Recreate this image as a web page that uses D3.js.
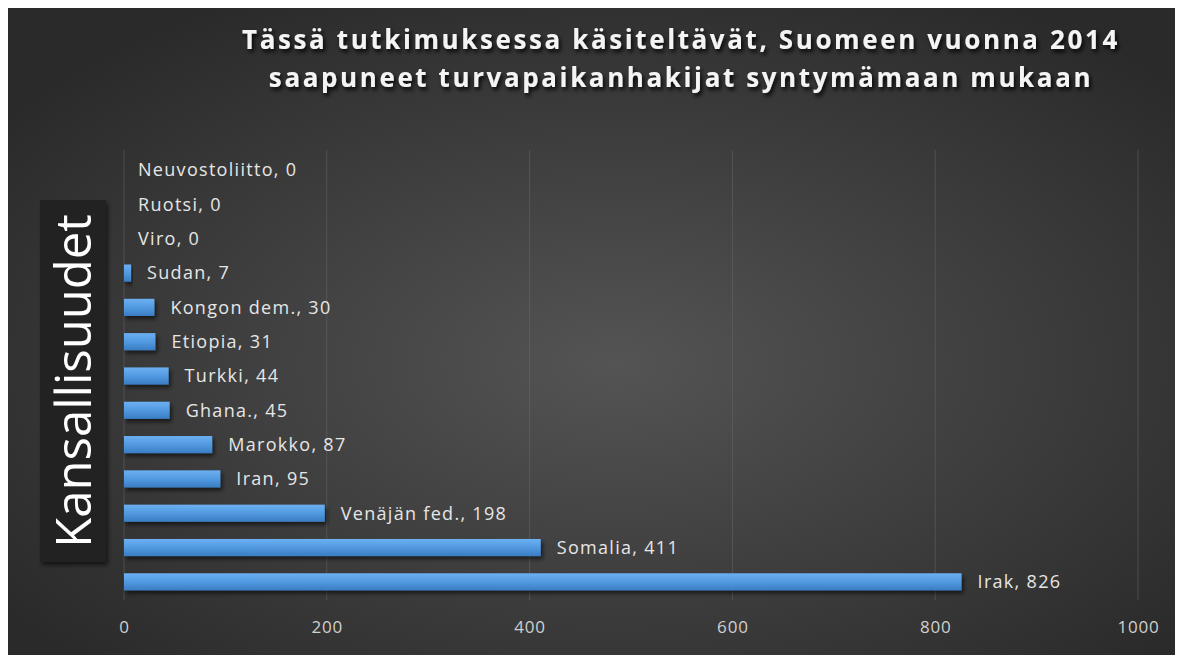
<!DOCTYPE html>
<html lang="fi">
<meta charset="utf-8">
<style type="text/css">
  body { margin: 0; background: #fff; }
  svg { display: block; }
  .grid line { stroke: #6a6a6a; stroke-opacity: 0.5; }
  .tick text { fill: #d0d0d0; font-family: "Open Sans", sans-serif; font-size: 17px; letter-spacing: 0.8px; }
  .lbl { fill: #e6e6e6; font-family: "Open Sans", sans-serif; font-size: 18px; letter-spacing: 1.3px; }
</style>
<body>
<script src="https://cdn.jsdelivr.net/npm/d3@7"></script>
<script>
var countries = ["Neuvostoliitto", "Ruotsi", "Viro", "Sudan", "Kongon dem.", "Etiopia", "Turkki",
                 "Ghana.", "Marokko", "Iran", "Venäjän fed.", "Somalia", "Irak"];
var counts = [0, 0, 0, 7, 30, 31, 44, 45, 87, 95, 198, 411, 826];
var xTicks = [0, 200, 400, 600, 800, 1000];
var titleLines = ["Tässä tutkimuksessa käsiteltävät, Suomeen vuonna 2014",
                  "saapuneet turvapaikanhakijat syntymämaan mukaan"];
var axisTitle = "Kansallisuudet";

var W = 1181, H = 657;
var svg = d3.select("body").append("svg")
    .attr("width", W)
    .attr("height", H);

var defs = svg.append("defs");
var bg = defs.append("radialGradient").attr("id", "bg")
    .attr("cx", "52%").attr("cy", "55%").attr("r", "65%");
bg.append("stop").attr("offset", "0%").attr("stop-color", "#545454");
bg.append("stop").attr("offset", "100%").attr("stop-color", "#2a2a2a");

var barGrad = defs.append("linearGradient").attr("id", "bar")
    .attr("x1", 0).attr("y1", 0).attr("x2", 0).attr("y2", 1);
barGrad.append("stop").attr("offset", "0%").attr("stop-color", "#6cb0f2");
barGrad.append("stop").attr("offset", "55%").attr("stop-color", "#4f97de");
barGrad.append("stop").attr("offset", "100%").attr("stop-color", "#3a7cc2");

var shadow = defs.append("filter").attr("id", "shadow")
    .attr("x", "-10%").attr("y", "-20%").attr("width", "130%").attr("height", "180%");
shadow.append("feDropShadow").attr("dx", 2).attr("dy", 3).attr("stdDeviation", 2)
    .attr("flood-color", "#000").attr("flood-opacity", 0.6);

var tshadow = defs.append("filter").attr("id", "tshadow")
    .attr("x", "-5%").attr("y", "-30%").attr("width", "110%").attr("height", "170%");
tshadow.append("feDropShadow").attr("dx", 2).attr("dy", 3).attr("stdDeviation", 2)
    .attr("flood-color", "#000").attr("flood-opacity", 0.9);

// background panel
svg.append("rect")
    .attr("x", 8).attr("y", 8)
    .attr("width", 1167).attr("height", 647)
    .attr("fill", "url(#bg)");

var x = d3.scaleLinear().domain([0, 1000]).range([124, 1138]);
var y = d3.scaleBand().domain(countries).range([153, 599]).paddingInner(0.5).paddingOuter(0.25);

// gridlines
svg.append("g").attr("class", "grid")
  .selectAll("line")
  .data(xTicks)
  .enter().append("line")
    .attr("x1", function (d) { return x(d); })
    .attr("x2", function (d) { return x(d); })
    .attr("y1", 150)
    .attr("y2", 600);

// x axis (labels only)
var xAxis = svg.append("g")
    .attr("transform", "translate(0,621)")
    .call(d3.axisBottom(x).tickValues(xTicks).tickFormat(d3.format("d")).tickSize(0).tickPadding(0));
xAxis.select(".domain").remove();

// bars
svg.append("g")
  .selectAll("rect")
  .data(counts)
  .enter().append("rect")
    .attr("x", x(0))
    .attr("y", function (d, i) { return y(countries[i]); })
    .attr("width", function (d) { return x(d) - x(0); })
    .attr("height", y.bandwidth())
    .attr("fill", "url(#bar)")
    .attr("filter", "url(#shadow)");

// data labels
svg.append("g")
  .selectAll("text")
  .data(counts)
  .enter().append("text")
    .attr("class", "lbl")
    .attr("x", function (d) { return x(d) + (d > 0 ? 16 : 14); })
    .attr("y", function (d, i) { return y(countries[i]) + y.bandwidth() / 2; })
    .attr("dy", "0.35em")
    .text(function (d, i) { return countries[i] + ", " + d; });

// axis title box
svg.append("rect")
    .attr("x", 40).attr("y", 200)
    .attr("width", 66).attr("height", 362)
    .attr("fill", "#242424")
    .attr("filter", "url(#shadow)");
svg.append("text")
    .attr("transform", "translate(91,381) rotate(-90)")
    .attr("text-anchor", "middle")
    .attr("fill", "#ffffff")
    .style("font-family", "'Open Sans', sans-serif")
    .style("font-size", "49px")
    .text(axisTitle);

// title
svg.append("g")
  .selectAll("text")
  .data(titleLines)
  .enter().append("text")
    .attr("x", 681)
    .attr("y", function (d, i) { return 49 + i * 38; })
    .attr("text-anchor", "middle")
    .attr("fill", "#f4f4f4")
    .attr("filter", "url(#tshadow)")
    .style("font-family", "'Open Sans', sans-serif")
    .style("font-weight", "bold")
    .style("font-size", "26px")
    .style("letter-spacing", "2.6px")
    .text(function (d) { return d; });
</script>
</body>
</html>
